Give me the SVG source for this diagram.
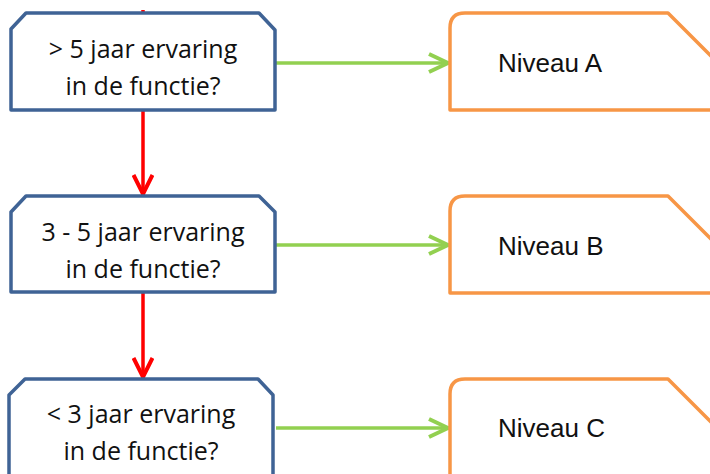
<svg xmlns="http://www.w3.org/2000/svg" width="710" height="474" viewBox="0 0 710 474">
<defs>
<style>
.q{fill:#ffffff;stroke:#3f6395;stroke-width:3.5;stroke-linejoin:round}
.lv{fill:#ffffff;stroke:#f79646;stroke-width:3.5;stroke-linejoin:round}
.qt{font-family:"Open Sans","Liberation Sans",sans-serif;font-size:25px;fill:#111;text-anchor:middle}
.lt{font-family:"Liberation Sans",Arial,sans-serif;font-size:26px;fill:#111}
.red{stroke:#ff0000;stroke-width:3.5;fill:none}
.grn{stroke:#92d050;stroke-width:3.5;fill:none}
</style>
<marker id="ar" viewBox="0 0 24 22" refX="22" refY="11" markerWidth="24" markerHeight="22" markerUnits="userSpaceOnUse" orient="auto">
<path d="M2,1.5 L21,11 L2,20.5" fill="none" stroke="#ff0000" stroke-width="4"/>
</marker>
<marker id="ag" viewBox="0 0 24 22" refX="22" refY="11" markerWidth="24" markerHeight="22" markerUnits="userSpaceOnUse" orient="auto">
<path d="M2,2 L21,11 L2,20" fill="none" stroke="#92d050" stroke-width="4"/>
</marker>
</defs>
<rect width="710" height="474" fill="#ffffff"/>
<g id="connectors">
<line class="red" x1="143" y1="10" x2="143" y2="13"/>
<line class="red" x1="143" y1="111" x2="143" y2="195" marker-end="url(#ar)"/>
<line class="red" x1="143" y1="293" x2="143" y2="378" marker-end="url(#ar)"/>
<line class="grn" x1="276" y1="63" x2="449" y2="63" marker-end="url(#ag)"/>
<line class="grn" x1="276" y1="245" x2="449" y2="245" marker-end="url(#ag)"/>
<line class="grn" x1="276" y1="428" x2="449" y2="428" marker-end="url(#ag)"/>
</g>
<g id="q1">
<path class="q" d="M26,13 H259 L275,30 V110 H11 V29 Z"/>
<text class="qt" x="143" y="58">&gt; 5 jaar ervaring</text>
<text class="qt" x="143" y="95">in de functie?</text>
</g>
<g id="q2">
<path class="q" d="M26,196 H259 L275,212 V292 H11 V212 Z"/>
<text class="qt" x="143" y="241">3 - 5 jaar ervaring</text>
<text class="qt" x="143" y="278">in de functie?</text>
</g>
<g id="q3">
<path class="q" d="M25,379 H258 L273,395 V480 H9 V395 Z"/>
<text class="qt" x="141" y="423">&lt; 3 jaar ervaring</text>
<text class="qt" x="141" y="460">in de functie?</text>
</g>
<g id="nA">
<path class="lv" d="M465,13 H668 L720,65 V110 H450 V28 Q450,13 465,13 Z"/>
<text class="lt" x="498" y="72">Niveau A</text>
</g>
<g id="nB">
<path class="lv" d="M465,196 H668 L720,248 V293 H450 V211 Q450,196 465,196 Z"/>
<text class="lt" x="498" y="255">Niveau B</text>
</g>
<g id="nC">
<path class="lv" d="M465,379 H668 L720,431 V480 H450 V394 Q450,379 465,379 Z"/>
<text class="lt" x="498" y="437">Niveau C</text>
</g>
</svg>
